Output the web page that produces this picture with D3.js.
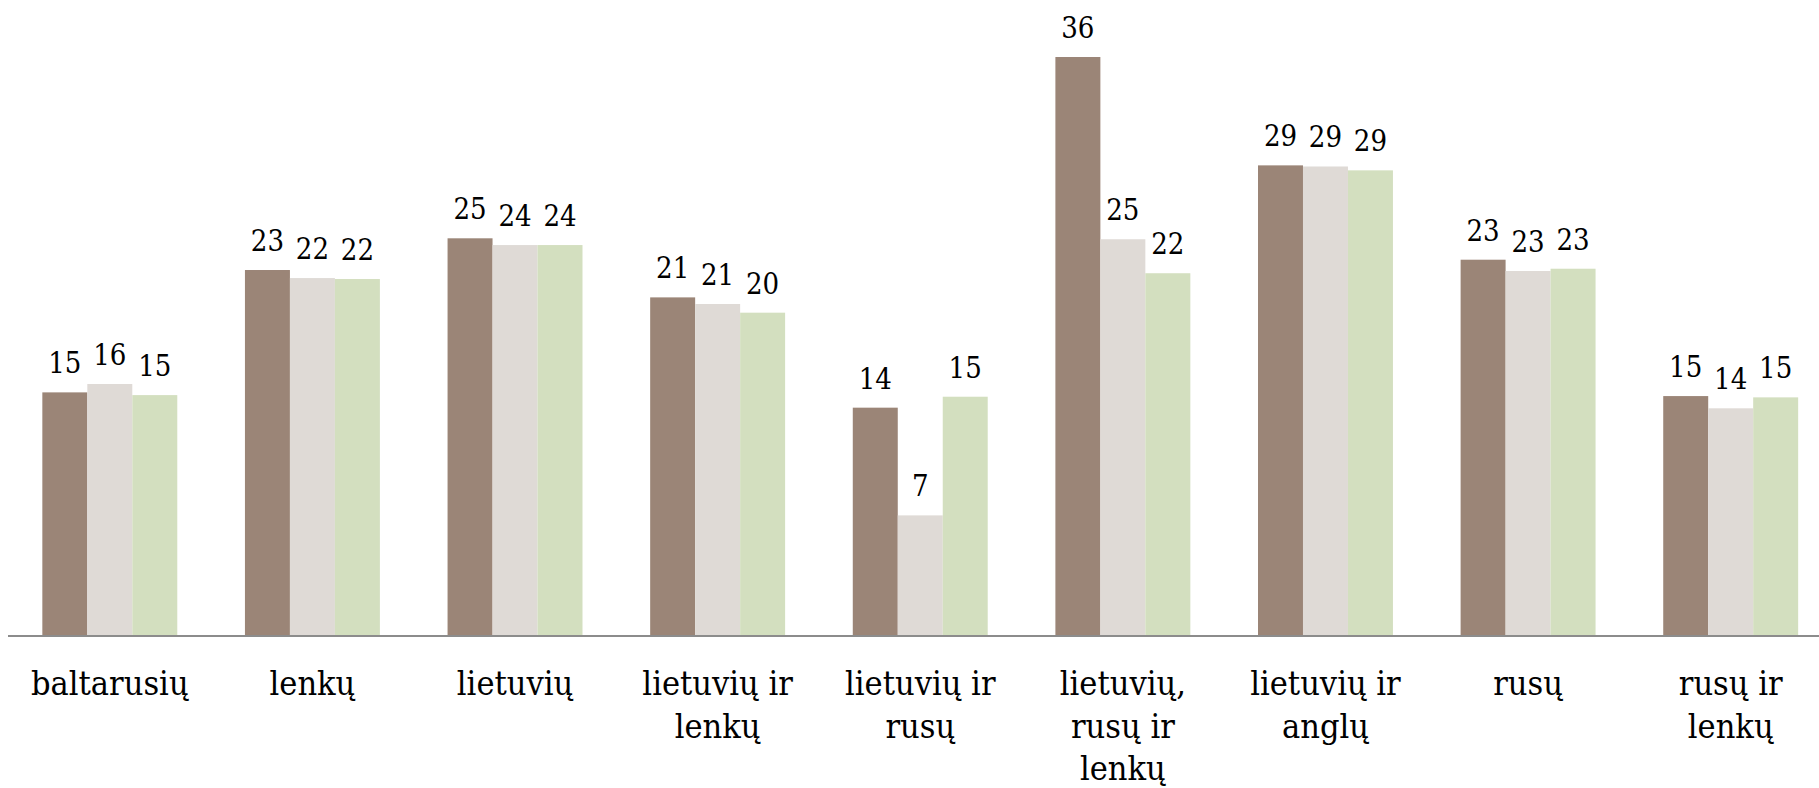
<!DOCTYPE html>
<html>
<head>
<meta charset="utf-8">
<script src="https://cdn.jsdelivr.net/npm/d3@7"></script>
<style>
  html, body { margin: 0; padding: 0; background: #ffffff; overflow: hidden; }
  svg { display: block; }
  .lbl, .cat { font-family: "DejaVu Serif Condensed", "DejaVu Serif", serif; font-stretch: condensed; fill: #000; }
</style>
</head>
<body>
<svg id="chart" width="1819" height="788"></svg>
<script>
// ---- data ----
const categories = ["baltarusių", "lenkų", "lietuvių", "lietuvių ir lenkų", "lietuvių ir rusų",
                    "lietuvių, rusų ir lenkų", "lietuvių ir anglų", "rusų", "rusų ir lenkų"];
const seriesNames = ["s1", "s2", "s3"];
const series1 = [15.07, 22.67, 24.64, 20.97, 14.12, 35.9, 29.17, 23.31, 14.84];
const series2 = [15.59, 22.17, 24.22, 20.56, 7.43, 24.58, 29.1, 22.61, 14.08];
const series3 = [14.9, 22.11, 24.22, 20.02, 14.8, 22.47, 28.86, 22.75, 14.76];
const colors = ["#9b8577", "#dfdad6", "#d3dfbf"];

const values = [series1, series2, series3];
const rows = categories.map((c, i) => ({ cat: c, vals: values.map(s => s[i]) }));

// ---- layout ----
const W = 1819, H = 788;
const baseY = 635;
const svg = d3.select("#chart");
svg.append("rect").attr("width", W).attr("height", H).attr("fill", "#fff");

const x = d3.scaleBand().domain(categories).range([8.5, 1832]).paddingInner(0.334).paddingOuter(0.167);
const xs = d3.scaleBand().domain(seriesNames).range([0, x.bandwidth()]).padding(0);
const y = d3.scaleLinear().domain([0, 40]).range([baseY, baseY - 16.1 * 40]);

const g = svg.selectAll("g.grp").data(rows).join("g")
  .attr("class", "grp")
  .attr("transform", d => `translate(${x(d.cat)},0)`);

g.selectAll("rect").data(d => d.vals.map((v, k) => ({ v, k }))).join("rect")
  .attr("x", d => xs(seriesNames[d.k]))
  .attr("width", xs.bandwidth())
  .attr("y", d => y(d.v))
  .attr("height", d => y(0) - y(d.v))
  .attr("fill", d => colors[d.k]);

g.selectAll("text.lbl").data(d => d.vals.map((v, k) => ({ v, k }))).join("text")
  .attr("class", "lbl")
  .attr("x", d => xs(seriesNames[d.k]) + xs.bandwidth() / 2)
  .attr("y", d => y(d.v) - 19)
  .attr("text-anchor", "middle")
  .attr("font-size", 29)
  .text(d => Math.round(d.v));

// ---- axis ----
const axis = d3.axisBottom(x).tickSize(0).tickPadding(0).tickFormat("");
const ax = svg.append("g").attr("transform", `translate(0,${baseY})`).call(axis);
ax.select(".domain").remove();
svg.append("line").attr("x1", 8).attr("x2", W).attr("y1", baseY + 1).attr("y2", baseY + 1)
  .attr("stroke", "#8c8c8c").attr("stroke-width", 2);

// category labels with wrapping
const maxW = 175;
const line1 = 695;
const lineH = 42.5;
ax.selectAll(".tick").each(function(cat) {
  const t = d3.select(this).append("text")
    .attr("class", "cat")
    .attr("text-anchor", "middle")
    .attr("font-size", 34)
    .attr("y", line1 - baseY);
  const words = cat.split(" ");
  let lines = [], cur = [];
  const probe = t.append("tspan");
  words.forEach(w => {
    const test = cur.concat([w]).join(" ");
    probe.text(test);
    if (probe.node().getComputedTextLength() > maxW && cur.length) {
      lines.push(cur.join(" "));
      cur = [w];
    } else cur.push(w);
  });
  lines.push(cur.join(" "));
  probe.remove();
  lines.forEach((ln, i) => {
    t.append("tspan").attr("x", 0).attr("y", line1 - baseY + i * lineH).text(ln);
  });
});
</script>
</body>
</html>
